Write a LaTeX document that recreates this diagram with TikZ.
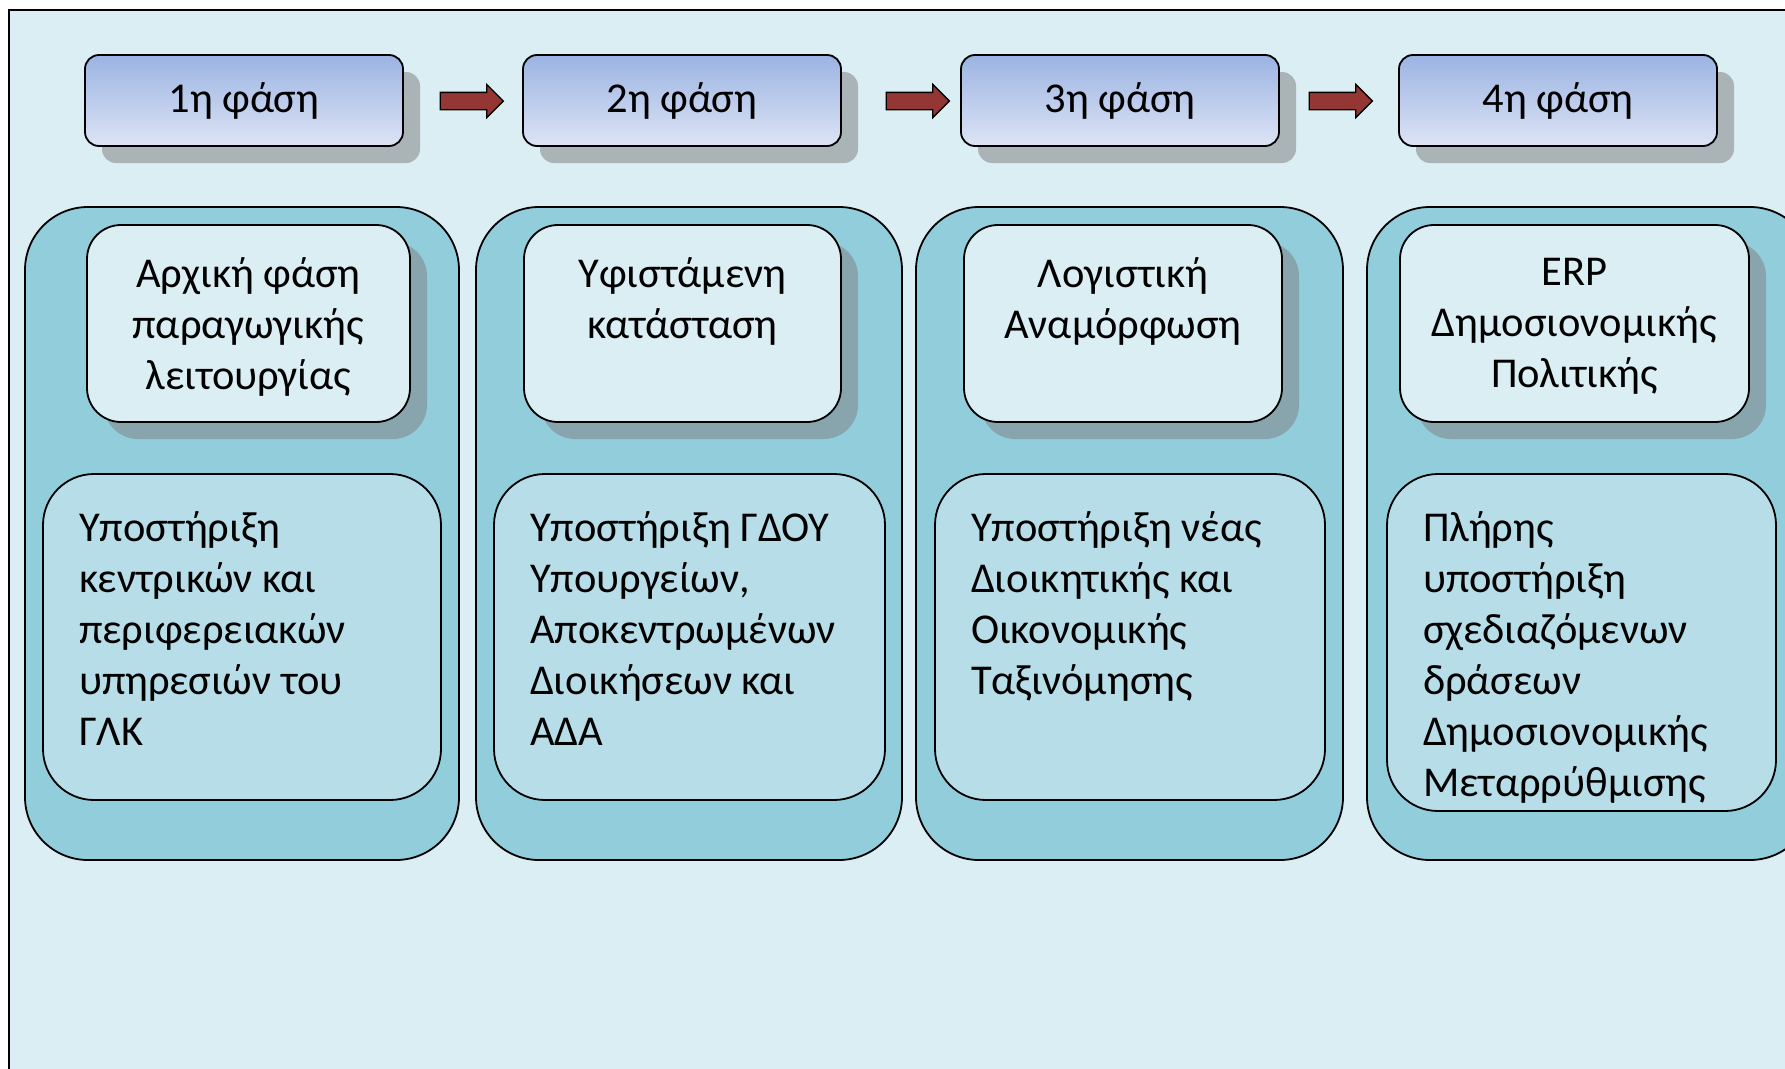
\documentclass[tikz,border=0pt]{standalone}
\usepackage{fontspec}
\setmainfont{Carlito}
\usetikzlibrary{positioning,shapes.arrows,shadows}
\definecolor{bgblue}{HTML}{DBEEF4}
\definecolor{outerblue}{HTML}{92CDDC}
\definecolor{topfill}{HTML}{DAEEF3}
\definecolor{botfill}{HTML}{B7DEE8}
\definecolor{phasetop}{HTML}{9BB3E3}
\definecolor{phasebot}{HTML}{DDE4F4}
\definecolor{phaseshade}{HTML}{AAB3B6}
\definecolor{innershade}{HTML}{88A5AE}
\definecolor{arrowred}{HTML}{943634}
\newcommand{\bigtext}{\fontsize{42.5pt}{51pt}\selectfont}

\begin{document}
\begin{tikzpicture}
[x=1pt,y=-1pt,node distance=438pt,line width=1.8pt]
\tikzstyle{phase}=[draw, rounded corners=14pt, top color=phasetop, bottom color=phasebot,
  minimum width=318pt, minimum height=91pt, font=\bigtext,
  drop shadow={shadow xshift=17pt, shadow yshift=-17pt, fill=phaseshade, opacity=1}]
\tikzstyle{flow}=[draw, fill=arrowred, single arrow, single arrow head extend=8pt,
  minimum height=63pt, minimum width=32pt, inner xsep=0pt, inner ysep=8pt, line width=1.3pt]
\tikzstyle{outer}=[draw, fill=outerblue, rounded corners=63pt, minimum height=653pt]
\tikzstyle{title}=[draw, fill=topfill, rounded corners=34pt, minimum height=197pt,
  drop shadow={shadow xshift=17pt, shadow yshift=-17pt, fill=innershade, opacity=1}]
\tikzstyle{detail}=[draw, fill=botfill, rounded corners=51pt]
\tikzstyle{toptext}=[align=center, inner sep=0pt, anchor=north, font=\bigtext]
\tikzstyle{bottext}=[align=left, inner sep=0pt, anchor=north west, font=\bigtext]

\clip (0,0) rectangle (1785,1068);
\fill[white] (0,0) rectangle (1785,1068);
\draw[fill=bgblue, line width=2.4pt] (9,10) rectangle (1810,1090);

% phases
\node [phase] (p1) at (244,100.5) {1η φάση};
\node [phase, right of=p1] (p2) {2η φάση};
\node [phase, right of=p2] (p3) {3η φάση};
\node [phase, right of=p3] (p4) {4η φάση};

\node [flow] (a1) at (467.5,101) {};
\node [flow] (a2) at (913.5,101) {};
\node [flow] (a3) at (1336.5,101) {};

% columns
\node [outer, minimum width=434pt] (c1) at (242,533.5) {};
\node [outer, minimum width=426pt] (c2) at (689,533.5) {};
\node [outer, minimum width=427pt] (c3) at (1129.5,533.5) {};
\node [outer, minimum width=446pt] (c4) at (1590,533.5) {};

\node [title, minimum width=323pt] (t1) at (248.5,323.5) {};
\node [title, minimum width=317pt] (t2) at (682.5,323.5) {};
\node [title, minimum width=318pt] (t3) at (1123,323.5) {};
\node [title, minimum width=349pt] (t4) at (1574.5,323.5) {};

\node [detail, minimum width=398pt, minimum height=326pt] (d1) at (242,637) {};
\node [detail, minimum width=391pt, minimum height=326pt] (d2) at (689.5,637) {};
\node [detail, minimum width=390pt, minimum height=326pt] (d3) at (1130,637) {};
\node [detail, minimum width=389pt, minimum height=337pt] (d4) at (1581.5,642.5) {};

% texts
\node [toptext, below=33pt of t1.north] (t1text) {Αρχική φάση\\παραγωγικής\\λειτουργίας};
\node [toptext, below=33pt of t2.north] (t2text) {Υφιστάμενη\\κατάσταση};
\node [toptext, below=33pt of t3.north] (t3text) {Λογιστική\\Αναμόρφωση};
\node [toptext, below=33pt of t4.north] (t4text) {ERP\\Δημοσιονομικής\\Πολιτικής};

\node [bottext, below right=37.5pt and 36pt of d1.north west] (d1text)
  {Υποστήριξη\\κεντρικών και\\περιφερειακών\\υπηρεσιών του\\ΓΛΚ};
\node [bottext, below right=37.5pt and 36pt of d2.north west] (d2text)
  {Υποστήριξη ΓΔΟΥ\\Υπουργείων,\\Αποκεντρωμένων\\Διοικήσεων και\\ΑΔΑ};
\node [bottext, below right=37.5pt and 36pt of d3.north west] (d3text)
  {Υποστήριξη νέας\\Διοικητικής και\\Οικονομικής\\Ταξινόμησης};
\node [bottext, below right=37.5pt and 36pt of d4.north west] (d4text)
  {Πλήρης\\υποστήριξη\\σχεδιαζόμενων\\δράσεων\\Δημοσιονομικής\\Μεταρρύθμισης};

\end{tikzpicture}
\end{document}
